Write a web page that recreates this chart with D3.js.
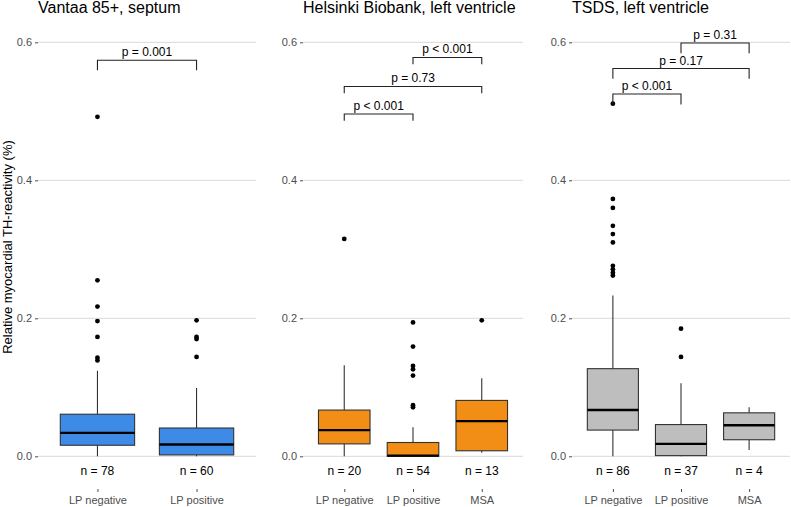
<!DOCTYPE html>
<html lang="en">
<head>
  <meta charset="UTF-8">
  <title>Relative myocardial TH-reactivity</title>
  <style>
    body { margin: 0; background: #fff; }
    svg { font-family: "Liberation Sans", Arial, sans-serif; }
    .axis text { font-size: 11px; fill: #4d4d4d; }
    .axis line { stroke: #4d4d4d; }
    .axis path { display: none; }
  </style>
</head>
<body>
  <svg id="chart"></svg>

  <script src="https://d3js.org/d3.v7.min.js"></script>
  <script>
    // Data
    const panelTitles = ["Vantaa 85+, septum", "Helsinki Biobank, left ventricle", "TSDS, left ventricle"];
    const panelFills = ["#3d8be6", "#f28e16", "#bebebe"];
    const yTicks = [0, 0.2, 0.4, 0.6];

    const vantaaGroups = ["LP negative", "LP positive"];
    const vantaaStats = [
      { group: "LP negative", lower: 0, q1: 0.016, median: 0.034, q3: 0.061, upper: 0.124, n: 78 },
      { group: "LP positive", lower: 0, q1: 0.002, median: 0.017, q3: 0.041, upper: 0.099, n: 60 }
    ];
    const vantaaOutliers = [
      { group: "LP negative", values: [0.492, 0.255, 0.217, 0.196, 0.173, 0.143, 0.139] },
      { group: "LP positive", values: [0.197, 0.173, 0.170, 0.144] }
    ];
    const vantaaTests = [
      { from: "LP negative", to: "LP positive", y: 0.574, label: "p = 0.001" }
    ];

    const helsinkiGroups = ["LP negative", "LP positive", "MSA"];
    const helsinkiStats = [
      { group: "LP negative", lower: 0, q1: 0.018, median: 0.038, q3: 0.067, upper: 0.132, n: 20 },
      { group: "LP positive", lower: 0, q1: 0, median: 0.001, q3: 0.020, upper: 0.042, n: 54 },
      { group: "MSA", lower: 0.005, q1: 0.008, median: 0.051, q3: 0.081, upper: 0.113, n: 13 }
    ];
    const helsinkiOutliers = [
      { group: "LP negative", values: [0.315] },
      { group: "LP positive", values: [0.194, 0.159, 0.131, 0.126, 0.117, 0.074, 0.071] },
      { group: "MSA", values: [0.197] }
    ];
    const helsinkiTests = [
      { from: "LP positive", to: "MSA", y: 0.578, label: "p < 0.001" },
      { from: "LP negative", to: "MSA", y: 0.536, label: "p = 0.73" },
      { from: "LP negative", to: "LP positive", y: 0.496, label: "p < 0.001" }
    ];

    const tsdsGroups = ["LP negative", "LP positive", "MSA"];
    const tsdsStats = [
      { group: "LP negative", lower: 0, q1: 0.038, median: 0.067, q3: 0.127, upper: 0.233, n: 86 },
      { group: "LP positive", lower: 0, q1: 0.001, median: 0.018, q3: 0.046, upper: 0.106, n: 37 },
      { group: "MSA", lower: 0.009, q1: 0.024, median: 0.045, q3: 0.063, upper: 0.071, n: 4 }
    ];
    const tsdsOutliers = [
      { group: "LP negative", values: [0.511, 0.373, 0.360, 0.334, 0.322, 0.310, 0.276, 0.271, 0.266, 0.262] },
      { group: "LP positive", values: [0.185, 0.144] },
      { group: "MSA", values: [] }
    ];
    const tsdsTests = [
      { from: "LP positive", to: "MSA", y: 0.599, label: "p = 0.31" },
      { from: "LP negative", to: "MSA", y: 0.562, label: "p = 0.17" },
      { from: "LP negative", to: "LP positive", y: 0.525, label: "p < 0.001" }
    ];

    const panels = [
      { groups: vantaaGroups, stats: vantaaStats, outliers: vantaaOutliers, tests: vantaaTests, tip: 0.0145 },
      { groups: helsinkiGroups, stats: helsinkiStats, outliers: helsinkiOutliers, tests: helsinkiTests, tip: 0.0097 },
      { groups: tsdsGroups, stats: tsdsStats, outliers: tsdsOutliers, tests: tsdsTests, tip: 0.015 }
    ];

    // Layout
    const svgWidth = 791;
    const svgHeight = 507;
    const panelX = [[38, 256], [303, 523], [572, 790]];
    const xAxisY = 489;

    const svg = d3.select("#chart")
      .attr("width", svgWidth)
      .attr("height", svgHeight);

    const y = d3.scaleLinear()
      .domain([0, 0.6])
      .range([456.3, 42.3]);

    // y axis title
    svg.append("text")
      .attr("transform", `translate(12, 247) rotate(-90)`)
      .attr("text-anchor", "middle")
      .style("font-size", "13px")
      .style("fill", "#000")
      .text("Relative myocardial TH-reactivity (%)");

    panels.forEach((p, i) => {
      const [x0, x1] = panelX[i];
      const g = svg.append("g");

      const x = d3.scalePoint()
        .domain(p.groups)
        .range([x0, x1])
        .padding(0.6);
      const boxW = x.step() * 0.75;

      // title
      g.append("text")
        .attr("x", x0)
        .attr("y", 13)
        .style("font-size", "16px")
        .style("fill", "#000")
        .text(panelTitles[i]);

      // grid
      g.selectAll(".grid")
        .data(yTicks)
        .enter().append("line")
        .attr("x1", x0)
        .attr("x2", x1)
        .attr("y1", d => y(d))
        .attr("y2", d => y(d))
        .attr("stroke", "#d9d9d9")
        .attr("stroke-width", 1);

      // y axis
      g.append("g")
        .attr("class", "axis")
        .attr("transform", `translate(${x0},0)`)
        .call(d3.axisLeft(y).tickValues(yTicks).tickFormat(d3.format(".1f")).tickSize(3).tickPadding(3));

      // x axis
      g.append("g")
        .attr("class", "axis")
        .attr("transform", `translate(0,${xAxisY})`)
        .call(d3.axisBottom(x).tickSize(3).tickPadding(4));

      // whiskers
      g.selectAll(".whisker")
        .data(p.stats)
        .enter().append("line")
        .attr("x1", d => x(d.group))
        .attr("x2", d => x(d.group))
        .attr("y1", d => y(d.lower))
        .attr("y2", d => y(d.upper))
        .attr("stroke", "#333")
        .attr("stroke-width", 1.1);

      // boxes
      g.selectAll(".box")
        .data(p.stats)
        .enter().append("rect")
        .attr("x", d => x(d.group) - boxW / 2)
        .attr("y", d => y(d.q3))
        .attr("width", boxW)
        .attr("height", d => y(d.q1) - y(d.q3))
        .attr("fill", panelFills[i])
        .attr("stroke", "#333")
        .attr("stroke-width", 1.1);

      // medians
      g.selectAll(".median")
        .data(p.stats)
        .enter().append("line")
        .attr("x1", d => x(d.group) - boxW / 2)
        .attr("x2", d => x(d.group) + boxW / 2)
        .attr("y1", d => y(d.median))
        .attr("y2", d => y(d.median))
        .attr("stroke", "#000")
        .attr("stroke-width", 2.4);

      // outliers
      p.outliers.forEach(o => {
        g.selectAll(null)
          .data(o.values)
          .enter().append("circle")
          .attr("cx", x(o.group))
          .attr("cy", d => y(d))
          .attr("r", 2.4)
          .attr("fill", "#000");
      });

      // n labels
      g.selectAll(".nlab")
        .data(p.stats)
        .enter().append("text")
        .attr("x", d => x(d.group))
        .attr("y", 475)
        .attr("text-anchor", "middle")
        .style("font-size", "12px")
        .style("fill", "#000")
        .text(d => `n = ${d.n}`);

      // significance brackets
      p.tests.forEach(t => {
        const xa = x(t.from), xb = x(t.to);
        const yl = y(t.y), yt = y(t.y - p.tip);
        g.append("path")
          .attr("d", `M${xa},${yt}L${xa},${yl}L${xb},${yl}L${xb},${yt}`)
          .attr("fill", "none")
          .attr("stroke", "#222")
          .attr("stroke-width", 1.1);
        g.append("text")
          .attr("x", (xa + xb) / 2)
          .attr("y", yl - 4)
          .attr("text-anchor", "middle")
          .style("font-size", "12px")
          .style("fill", "#000")
          .text(t.label);
      });
    });
  </script>
</body>
</html>
